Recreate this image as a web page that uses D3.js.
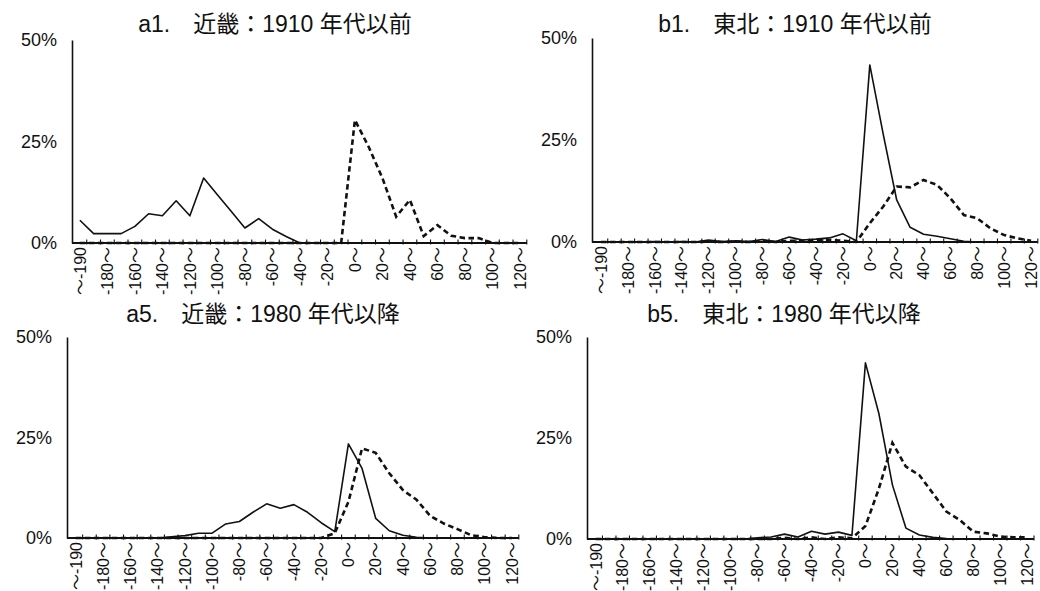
<!DOCTYPE html>
<html><head><meta charset="utf-8">
<script src="https://cdn.jsdelivr.net/npm/d3@7"></script>
<style>
html,body{margin:0;padding:0;background:#fff;}
svg{display:block;}
text{font-family:"Liberation Sans","Noto Sans CJK JP",sans-serif;fill:#111;}
</style></head>
<body>
<svg id="chart" width="1040" height="591"></svg>
<script>
// ---- data ----
const categories = ["～-190","-190～","-180～","-170～","-160～","-150～","-140～","-130～","-120～","-110～",
  "-100～","-90～","-80～","-70～","-60～","-50～","-40～","-30～","-20～","-10～",
  "0～","10～","20～","30～","40～","50～","60～","70～","80～","90～","100～","110～","120～"];
const tickLabels = ["～-190","-180～","-160～","-140～","-120～","-100～","-80～","-60～","-40～","-20～",
  "0～","20～","40～","60～","80～","100～","120～"];
const yTicks = [0, 25, 50];
const yTickLabels = ["0%","25%","50%"];
const titles = ["a1.　近畿：1910 年代以前","b1.　東北：1910 年代以前","a5.　近畿：1980 年代以降","b5.　東北：1980 年代以降"];

const a1Solid  = [5.6,2.3,2.3,2.3,4.1,7.2,6.7,10.4,6.7,16.0,11.9,7.8,3.7,6.0,3.4,1.6,0,0,0,0,0,0,0,0,0,0,0,0,0,0,0,0,0];
const a1Dashed = [0,0,0,0,0,0,0,0,0,0,0,0,0,0,0,0,0,0,0,0,30.3,23.7,16.0,6.5,10.6,1.7,4.4,1.8,1.2,1.2,0,0,0];
const b1Solid  = [0,0,0,0,0.1,0,0.1,0,0.5,0.1,0.3,0.1,0.6,0.1,1.2,0.5,0.7,1.0,2.0,0.3,43.4,26.4,10.3,3.6,1.9,1.4,0.8,0.2,0,0,0,0,0];
const b1Dashed = [0,0,0,0,0,0,0,0,0.1,0,0.1,0,0.2,0,0.3,0.3,0.5,0.5,0.3,0,4.6,8.7,13.6,13.4,15.2,14.0,10.7,6.6,5.8,3.3,1.7,0.9,0.3];
const a5Solid  = [0,0,0,0,0,0,0,0.3,0.6,1.2,1.2,3.5,4.1,6.4,8.5,7.4,8.3,6.4,3.8,1.6,23.4,17.3,4.9,1.8,0.7,0.2,0,0,0,0,0,0,0];
const a5Dashed = [0,0,0,0,0,0,0,0,0,0,0,0,0,0,0,0,0,0,0,1.2,9.0,22.3,21.2,16.1,11.9,9.5,5.5,3.6,2.2,0.7,0.2,0,0];
const b5Solid  = [0,0,0,0,0,0,0,0,0,0,0,0,0.3,0.5,1.2,0.5,1.9,1.2,1.7,0.9,43.6,31.0,13.4,2.7,1.0,0.4,0.1,0,0,0,0,0,0];
const b5Dashed = [0,0,0,0,0,0,0,0,0,0,0,0,0,0,0.3,0,0.4,0,0.4,0.2,3.2,12.5,23.8,17.9,15.8,11.3,6.8,4.7,1.8,1.4,0.6,0.4,0.4];

// ---- layout ----
const panels = [
  {title:titles[0], solid:a1Solid, dashed:a1Dashed, yAxisX:72, x0:73,  x1:526.8, y0:243, y50:40,  titleX:275, titleY:32},
  {title:titles[1], solid:b1Solid, dashed:b1Dashed, yAxisX:592, x0:594.3, x1:1037.8, y0:242, y50:38, titleX:795, titleY:32},
  {title:titles[2], solid:a5Solid, dashed:a5Dashed, yAxisX:67, x0:69,  x1:518.8, y0:538, y50:337, titleX:263, titleY:322},
  {title:titles[3], solid:b5Solid, dashed:b5Dashed, yAxisX:587, x0:589, x1:1034, y0:539, y50:337, titleX:784, titleY:322}
];

const svg = d3.select("#chart");

panels.forEach((p, i) => {
  const g = svg.append("g");

  const x = d3.scaleBand().domain(categories).range([p.x0, p.x1]).paddingInner(0).paddingOuter(0);
  const y = d3.scaleLinear().domain([0, 50]).range([p.y0, p.y50]);
  const cx = d => x(d) + x.bandwidth() / 2;

  // title
  g.append("text").attr("x", p.titleX).attr("y", p.titleY)
    .attr("text-anchor", "middle").style("font-size", "23px").text(p.title);

  // y axis
  const yAxis = d3.axisLeft(y).tickValues(yTicks).tickSize(0).tickPadding(15)
    .tickFormat(d => yTickLabels[yTicks.indexOf(d)]);
  const ya = g.append("g").attr("transform", `translate(${p.yAxisX},0)`).call(yAxis);
  ya.select(".domain").attr("stroke", "#111").attr("stroke-width", 1.6);
  ya.selectAll("text").style("font-size", "18px").attr("fill", "#111");

  // x axis line
  g.append("line").attr("x1", p.yAxisX).attr("x2", p.x1).attr("y1", p.y0).attr("y2", p.y0)
    .attr("stroke", "#111").attr("stroke-width", 1.8);
  // ticks at category boundaries
  const bounds = categories.map(c => x(c)).concat([p.x1]);
  g.selectAll(".xt").data(bounds.slice(1)).enter().append("line")
    .attr("x1", d => d).attr("x2", d => d).attr("y1", p.y0 - 3.5).attr("y2", p.y0 + 1.5)
    .attr("stroke", "#111").attr("stroke-width", 1.1);

  // x labels
  g.selectAll(".xl").data(categories.filter(c => tickLabels.includes(c))).enter().append("text")
    .attr("transform", d => `translate(${cx(d)},${p.y0 + 4}) rotate(-90)`)
    .attr("text-anchor", "end").attr("dy", "0.36em")
    .style("font-size", "16px").text(d => d);

  // lines
  const line = arr => d3.line().x((d, k) => cx(categories[k])).y(d => y(d))(arr);
  g.append("path").attr("d", line(p.dashed)).attr("fill", "none")
    .attr("stroke", "#111").attr("stroke-width", 2.6).attr("stroke-dasharray", "5.5,3.5");
  g.append("path").attr("d", line(p.solid)).attr("fill", "none")
    .attr("stroke", "#111").attr("stroke-width", 1.6).attr("stroke-linejoin", "round");
});
</script>
</body></html>
